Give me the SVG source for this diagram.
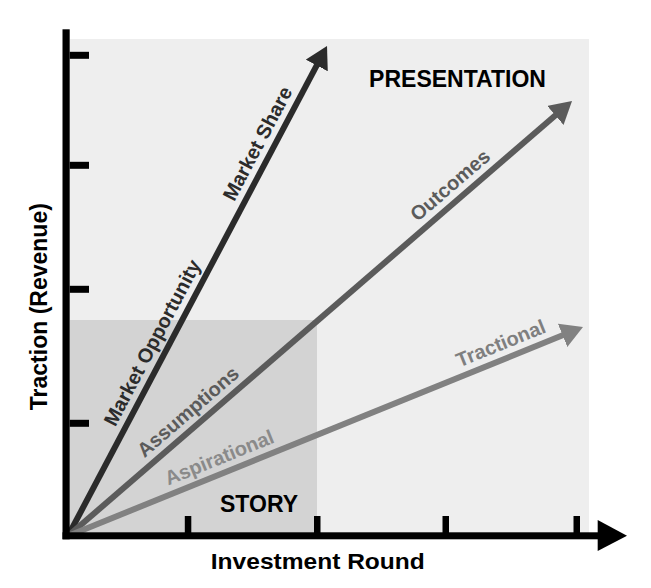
<svg xmlns="http://www.w3.org/2000/svg" width="651" height="588" viewBox="0 0 651 588">
  <style>
    .lbl { font-family: "Liberation Sans", Arial, sans-serif; font-weight: bold; font-size: 20px; text-anchor: middle; }
    .title { font-family: "Liberation Sans", Arial, sans-serif; font-weight: bold; text-anchor: middle; fill: #000; }
    .axis { fill: #000; }
    .conn { fill: none; stroke-width: 6; stroke-linecap: butt; }
  </style>
  <defs>
    <marker id="headDark" markerUnits="userSpaceOnUse" markerWidth="22" markerHeight="25" viewBox="0 0 22 25" refX="4" refY="12.5" orient="auto">
      <path d="M0,0 L22,12.5 L0,25 z" fill="#2b2b2b"/>
    </marker>
    <marker id="headMid" markerUnits="userSpaceOnUse" markerWidth="22" markerHeight="25" viewBox="0 0 22 25" refX="4" refY="12.5" orient="auto">
      <path d="M0,0 L22,12.5 L0,25 z" fill="#5b5b5b"/>
    </marker>
    <marker id="headLight" markerUnits="userSpaceOnUse" markerWidth="22" markerHeight="25" viewBox="0 0 22 25" refX="4" refY="12.5" orient="auto">
      <path d="M0,0 L22,12.5 L0,25 z" fill="#818181"/>
    </marker>
  </defs>

  <rect width="651" height="588" fill="#ffffff"/>

  <g id="presentation">
    <rect x="70" y="39" width="519" height="494" fill="#eeeeee"/>
    <text class="title" x="457.5" y="87.3" font-size="23">PRESENTATION</text>
  </g>

  <g id="story">
    <rect x="70" y="320" width="247" height="213" fill="#d3d3d3"/>
    <text class="title" x="259" y="511.7" font-size="23">STORY</text>
  </g>

  <g id="connectors">
    <path id="market" class="conn" d="M68,536 L318.6,61.9" stroke="#2b2b2b" marker-end="url(#headDark)"/>
    <path id="outcomes" class="conn" d="M68,536 L558.4,112.8" stroke="#5b5b5b" marker-end="url(#headMid)"/>
    <path id="tractional" class="conn" d="M68,536 L566.3,333.8" stroke="#818181" marker-end="url(#headLight)"/>
  </g>

  <g id="labels">
    <text class="lbl" fill="#2b2b2b" dy="0.35em" transform="translate(257.4,143.5) rotate(-62.1)">Market Share</text>
    <text class="lbl" fill="#2b2b2b" dy="0.35em" transform="translate(152.1,342.7) rotate(-62.1)">Market Opportunity</text>
    <text class="lbl" fill="#5b5b5b" dy="0.35em" transform="translate(450,185.1) rotate(-40.8)">Outcomes</text>
    <text class="lbl" fill="#5b5b5b" dy="0.35em" transform="translate(187.8,411.5) rotate(-40.8)">Assumptions</text>
    <text class="lbl" fill="#7f7f7f" dy="0.35em" transform="translate(500.7,343.2) rotate(-22.1)">Tractional</text>
    <text class="lbl" fill="#8a8a8a" dy="0.35em" transform="translate(219.2,457.4) rotate(-22.1)">Aspirational</text>
  </g>

  <g id="y-axis">
    <rect class="axis" x="62.5" y="29.3" width="7.2" height="510"/>
    <rect class="axis" x="69.7" y="51.8" width="19.3" height="7"/>
    <rect class="axis" x="69.7" y="161.8" width="19.3" height="7"/>
    <rect class="axis" x="69.7" y="285.8" width="19.3" height="7"/>
    <rect class="axis" x="69.7" y="419.8" width="19.3" height="7"/>
    <text class="title" font-size="23" transform="translate(46.5,306.7) rotate(-90)">Traction (Revenue)</text>
  </g>

  <g id="x-axis">
    <rect class="axis" x="62.5" y="532.3" width="536" height="7"/>
    <polygon class="axis" points="597.7,520 627,535.8 597.7,551"/>
    <rect class="axis" x="184.8" y="516" width="6.5" height="17"/>
    <rect class="axis" x="314" y="516" width="6.5" height="17"/>
    <rect class="axis" x="442.5" y="516" width="6.5" height="17"/>
    <rect class="axis" x="573.5" y="516" width="6.5" height="17"/>
    <text class="title" x="317.8" y="569.3" font-size="22" textLength="214" lengthAdjust="spacingAndGlyphs">Investment Round</text>
  </g>
</svg>
